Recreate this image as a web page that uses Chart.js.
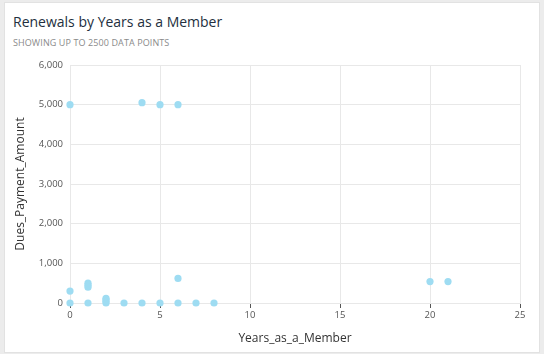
<!DOCTYPE html>
<html>
<head>
<meta charset="utf-8">
<script src="https://cdn.jsdelivr.net/npm/chart.js@4"></script>
<style>
  html, body { margin: 0; padding: 0; background: #ececec; }
  .card {
    position: absolute; left: 4px; top: 2px; width: 534px; height: 349px;
    background: #fff; border: 1px solid #e2e2e2;
  }
  .title {
    position: absolute; left: 8px; top: 9px;
    font: 14px "Open Sans", sans-serif; color: #232f3e;
  }
  .sub {
    position: absolute; left: 8px; top: 33px;
    font: 9px "Open Sans", sans-serif; color: #8a8a8a; letter-spacing: 0.1px;
  }
  canvas { position: absolute; left: 0; top: 0; }
</style>
</head>
<body>
<div class="card">
  <div class="title">Renewals by Years as a Member</div>
  <div class="sub">SHOWING UP TO 2500 DATA POINTS</div>
</div>
<canvas id="chart" width="544" height="354"></canvas>
<script>
// points
const years  = [0, 0, 0, 1, 1, 1, 1, 2, 2, 2, 2, 3, 4, 4, 5, 5, 6, 6, 6, 7, 8, 20, 21];
const dues   = [5000, 300, 0, 500, 450, 400, 0, 120, 80, 40, 0, 0, 5050, 0, 5000, 0, 5000, 620, 0, 0, 0, 540, 540];
const xTicks = [0, 5, 10, 15, 20, 25];
const yTicks = [0, 1000, 2000, 3000, 4000, 5000, 6000];

const points = years.map((x, i) => ({ x: x, y: dues[i] }));

Chart.defaults.font.family = '"Open Sans", sans-serif';

new Chart(document.getElementById('chart'), {
  type: 'scatter',
  data: {
    datasets: [{
      label: 'Dues_Payment_Amount',
      data: points,
      backgroundColor: '#9edcf2',
      borderWidth: 0,
      pointRadius: 3.6,
      pointHoverRadius: 4,
      clip: false
    }]
  },
  options: {
    responsive: false,
    animation: false,
    layout: { padding: { left: 10, right: 24, top: 65, bottom: 8 } },
    plugins: { legend: { display: false }, tooltip: { enabled: false } },
    scales: {
      x: {
        type: 'linear',
        min: xTicks[0],
        max: xTicks[xTicks.length - 1],
        afterBuildTicks: (s) => { s.ticks = xTicks.map(v => ({ value: v })); },
        afterFit: (s) => { s.height = 43; },
        grid: { color: '#e8e8e8', tickColor: '#555', tickLength: 5 },
        border: { color: '#e8e8e8' },
        ticks: { color: '#555', font: { size: 9.5 }, padding: 2 },
        title: { display: true, text: 'Years_as_a_Member', color: '#333', font: { size: 12 }, padding: 0 }
      },
      y: {
        min: yTicks[0],
        max: yTicks[yTicks.length - 1],
        afterBuildTicks: (s) => { s.ticks = yTicks.map(v => ({ value: v })); },
        afterFit: (s) => { s.width = 60; },
        grid: { color: '#e8e8e8', drawTicks: false },
        border: { color: '#e8e8e8' },
        ticks: { color: '#555', font: { size: 9.5 }, padding: 7 },
        title: { display: true, text: 'Dues_Payment_Amount', color: '#333', font: { size: 12 }, padding: { top: 3 } }
      }
    }
  }
});
</script>
</body>
</html>
